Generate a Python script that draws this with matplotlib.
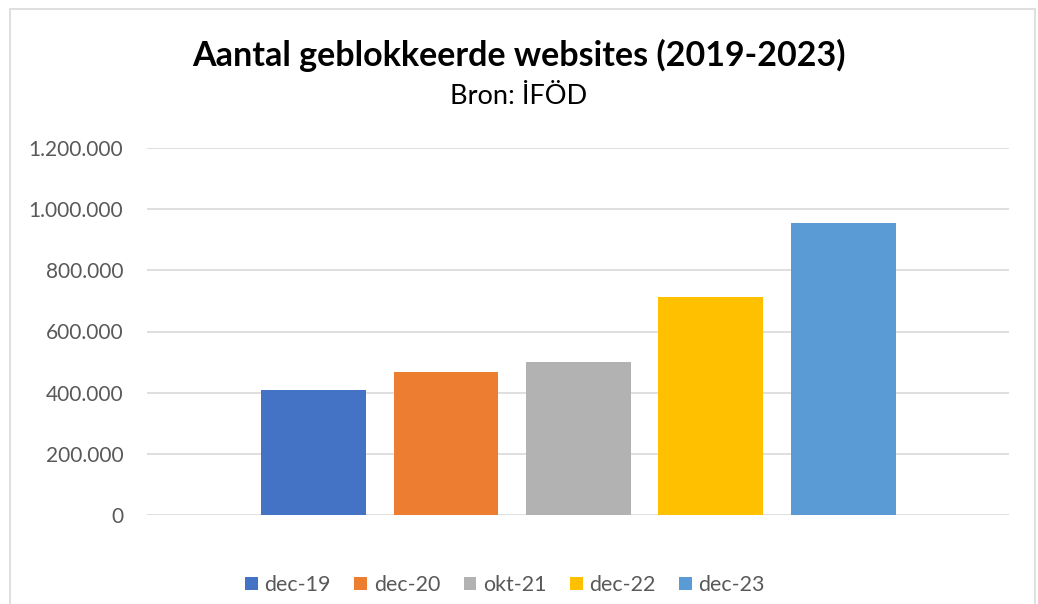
import matplotlib
matplotlib.use("Agg")
import matplotlib.pyplot as plt
from matplotlib.patches import Rectangle
from matplotlib.ticker import FuncFormatter

categories = ["dec-19", "dec-20", "okt-21", "dec-22", "dec-23"]
values = [408500, 467000, 500300, 712500, 954000]
colors = ["#4472C4", "#ED7D31", "#B2B2B2", "#FFC000", "#5B9BD5"]
yticks = [0, 200000, 400000, 600000, 800000, 1000000, 1200000]

W, H = 1038, 604
fig = plt.figure(figsize=(W / 100, H / 100), dpi=100)
plt.rcParams['font.family'] = ['Lato', 'DejaVu Sans']

# chart border
fig.patches.append(Rectangle((10 / W, -0.05), (1035 - 10) / W, 1 - 9 / H + 0.05,
                             transform=fig.transFigure, fill=False,
                             edgecolor="#D9D9D9", linewidth=1.2))

ax = fig.add_axes([147 / W, 1 - 515 / H, (1009 - 147) / W, (515 - 148) / H])
for i, (c, v, col) in enumerate(zip(categories, values, colors)):
    ax.bar(i, v, width=0.792, color=col, label=c, zorder=3)

ax.set_xlim(-1.257, 5.25)
ax.set_ylim(0, 1200000)
ax.set_yticks(yticks)
ax.yaxis.set_major_formatter(FuncFormatter(lambda v, p: f"{int(v):,}".replace(",", ".")))
ax.set_xticks([])
ax.grid(axis="y", color="#D9D9D9", linewidth=1.2, zorder=0)
for s in ax.spines.values():
    s.set_visible(False)
ax.tick_params(axis="y", length=0, pad=17, labelsize=15, labelcolor="#595959")

fig.text(0.5, 1 - 55 / H, "Aantal geblokkeerde websites (2019-2023)", ha="center", va="center",
         fontsize=24.5, fontweight="bold", color="black")
fig.text(0.5, 1 - 97 / H, "Bron: İFÖD", ha="center", va="center", fontsize=19.5, color="black")

leg = fig.legend(loc="center", bbox_to_anchor=(505 / W, 1 - 585 / H), ncol=5, frameon=False,
                 fontsize=15.4, handlelength=0.6, handleheight=0.6, handletextpad=0.3,
                 columnspacing=1.1, labelcolor="#595959")

fig.savefig("out.png", dpi=100)
